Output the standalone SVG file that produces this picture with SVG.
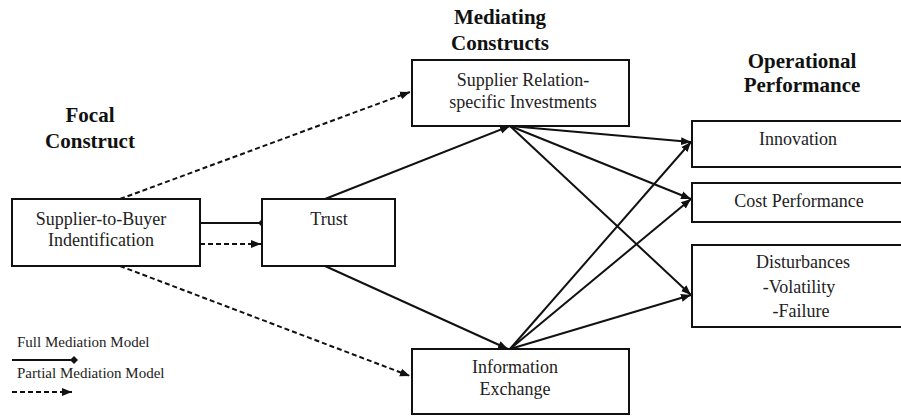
<svg xmlns="http://www.w3.org/2000/svg" width="901" height="416" viewBox="0 0 901 416">
<defs>
<style>
.box{fill:#fff;stroke:#111;stroke-width:2}
.t{font-family:"Liberation Serif","Times New Roman",serif;font-size:18px;fill:#222;text-anchor:middle}
.h{font-family:"Liberation Serif","Times New Roman",serif;font-size:21px;font-weight:bold;fill:#111;text-anchor:middle}
.lg{font-family:"Liberation Serif","Times New Roman",serif;font-size:15px;fill:#222}
.s{stroke:#111;stroke-width:2;fill:none}
.d{stroke:#111;stroke-width:2;fill:none;stroke-dasharray:5,3}
</style>
<marker id="arr" viewBox="0 0 10 10" refX="10" refY="5" markerWidth="10" markerHeight="10" markerUnits="userSpaceOnUse" orient="auto">
<path d="M0,1 L10,5 L0,9 Z" fill="#111"/>
</marker>
<marker id="dot" viewBox="0 0 10 10" refX="5" refY="5" markerWidth="8" markerHeight="8" markerUnits="userSpaceOnUse" orient="auto">
<path d="M0,5 L5,0 L10,5 L5,10 Z" fill="#111"/>
</marker>
</defs>
<rect width="901" height="416" fill="#fff"/>
<g id="headers">
<text class="h" x="90" y="122">Focal</text>
<text class="h" x="90" y="148">Construct</text>
<text class="h" x="500" y="24">Mediating</text>
<text class="h" x="500" y="50">Constructs</text>
<text class="h" x="802" y="68">Operational</text>
<text class="h" x="802" y="92">Performance</text>
</g>
<g id="connectors">
<line class="d" x1="120" y1="199" x2="410" y2="92" marker-end="url(#arr)"/>
<line class="d" x1="120" y1="266" x2="410" y2="376" marker-end="url(#arr)"/>
<line class="d" x1="200" y1="244" x2="261" y2="244" marker-end="url(#arr)"/>
<line class="s" x1="200" y1="223" x2="262" y2="223" marker-end="url(#dot)"/>
<line class="s" x1="325" y1="199" x2="510" y2="126" marker-end="url(#arr)"/>
<line class="s" x1="325" y1="266" x2="508" y2="349" marker-end="url(#arr)"/>
<line class="s" x1="510" y1="126" x2="691" y2="142" marker-end="url(#arr)"/>
<line class="s" x1="510" y1="126" x2="691" y2="199" marker-end="url(#arr)"/>
<line class="s" x1="510" y1="126" x2="691" y2="295" marker-end="url(#arr)"/>
<line class="s" x1="510" y1="349" x2="691" y2="142" marker-end="url(#arr)"/>
<line class="s" x1="510" y1="349" x2="691" y2="199" marker-end="url(#arr)"/>
<line class="s" x1="510" y1="349" x2="691" y2="295" marker-end="url(#arr)"/>
</g>
<g id="supplier">
<rect class="box" x="12" y="199" width="188" height="67"/>
<text class="t" x="101" y="225">Supplier-to-Buyer</text>
<text class="t" x="101" y="246">Indentification</text>
</g>
<g id="trust">
<rect class="box" x="262" y="199" width="133" height="67"/>
<text class="t" x="329" y="225">Trust</text>
</g>
<g id="sri">
<rect class="box" x="412" y="60" width="217" height="66"/>
<text class="t" x="523" y="86">Supplier Relation-</text>
<text class="t" x="523" y="108">specific Investments</text>
</g>
<g id="info">
<rect class="box" x="412" y="349" width="217" height="65"/>
<text class="t" x="515" y="373">Information</text>
<text class="t" x="515" y="395">Exchange</text>
</g>
<g id="innovation">
<rect class="box" x="692" y="121" width="220" height="46"/>
<text class="t" x="798" y="145">Innovation</text>
</g>
<g id="cost">
<rect class="box" x="692" y="183" width="220" height="39"/>
<text class="t" x="799" y="207">Cost Performance</text>
</g>
<g id="disturbances">
<rect class="box" x="692" y="245" width="220" height="82"/>
<text class="t" x="803" y="268">Disturbances</text>
<text class="t" x="799" y="293">-Volatility</text>
<text class="t" x="801" y="317">-Failure</text>
</g>
<g id="legend">
<text class="lg" x="17" y="347">Full Mediation Model</text>
<line class="s" x1="12" y1="360" x2="74" y2="360" stroke-width="1.5" marker-end="url(#dot)"/>
<text class="lg" x="17" y="378">Partial Mediation Model</text>
<line class="d" x1="12" y1="392" x2="72" y2="392" marker-end="url(#arr)"/>
</g>
</svg>
